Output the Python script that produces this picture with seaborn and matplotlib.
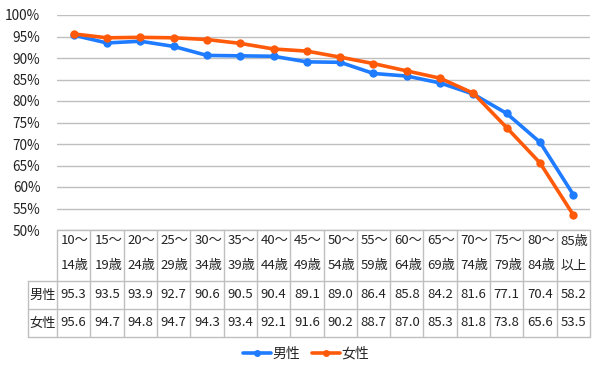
import matplotlib
matplotlib.use("Agg")
import matplotlib.pyplot as plt
import seaborn as sns
import pandas as pd
import numpy as np

# data
age_top = ['10～', '15～', '20～', '25～', '30～', '35～', '40～', '45～',
           '50～', '55～', '60～', '65～', '70～', '75～', '80～', '85歳']
age_bottom = ['14歳', '19歳', '24歳', '29歳', '34歳', '39歳', '44歳', '49歳',
              '54歳', '59歳', '64歳', '69歳', '74歳', '79歳', '84歳', '以上']
male = [95.3, 93.5, 93.9, 92.7, 90.6, 90.5, 90.4, 89.1,
        89.0, 86.4, 85.8, 84.2, 81.6, 77.1, 70.4, 58.2]
female = [95.6, 94.7, 94.8, 94.7, 94.3, 93.4, 92.1, 91.6,
          90.2, 88.7, 87.0, 85.3, 81.8, 73.8, 65.6, 53.5]
series_names = ['男性', '女性']
colors = ['#1F7BFF', '#FF5A0A']

sns.set_style('white')
plt.rcParams['font.family'] = ['Noto Sans CJK JP', 'DejaVu Sans']

n = len(male)
df = pd.DataFrame({
    'x': list(range(n)) * 2,
    'rate': male + female,
    'sex': [series_names[0]] * n + [series_names[1]] * n,
})

W, H = 606, 378
fig = plt.figure(figsize=(W / 100, H / 100), dpi=100)

# main plot area in pixel terms
left, right, top, bottom = 57, 590, 15, 230
ax = fig.add_axes([left / W, 1 - bottom / H, (right - left) / W, (bottom - top) / H])
sns.lineplot(data=df, x='x', y='rate', hue='sex', palette=colors, marker='o',
             markersize=6, markeredgewidth=0, linewidth=2.6, ax=ax, legend=False)
ax.set_xlim(-0.5, n - 0.5)
ax.set_ylim(50, 100)
ax.set_yticks(np.arange(50, 101, 5))
ax.set_yticklabels([f'{v}%' for v in range(50, 101, 5)], fontsize=9.8, color='#222222')
ax.set_xticks([])
ax.set_xlabel('')
ax.set_ylabel('')
ax.tick_params(axis='y', length=0, pad=12)
ax.grid(axis='y', color='#BFBFBF', linewidth=1)
ax.set_axisbelow(True)
for s in ax.spines.values():
    s.set_visible(False)

# data table below the plot
tleft, ttop, tbot = 28, 230, 337
row_edges = [230, 281, 309, 337]
tab = fig.add_axes([0, 0, 1, 1], facecolor='none')
tab.set_xlim(0, W)
tab.set_ylim(H, 0)
tab.axis('off')
colw = (right - left) / n
grid_c = '#BFBFBF'
# horizontal lines
tab.plot([left, right], [row_edges[0]] * 2, color=grid_c, lw=1)
for y in row_edges[1:]:
    tab.plot([tleft, right], [y, y], color=grid_c, lw=1)
# vertical lines
tab.plot([tleft, tleft], [row_edges[1], tbot], color=grid_c, lw=1)
for i in range(n + 1):
    x = left + i * colw
    tab.plot([x, x], [ttop, tbot], color=grid_c, lw=1)

fs = 9.5
for i in range(n):
    x0 = left + i * colw
    tab.text(x0 + 4, 241, age_top[i], fontsize=fs, va='center', ha='left', color='#222222')
    tab.text(x0 + 4, 266, age_bottom[i], fontsize=fs, va='center', ha='left', color='#222222')
    tab.text(x0 + colw / 2, 295, f'{male[i]:.1f}', fontsize=fs, va='center', ha='center', color='#222222')
    tab.text(x0 + colw / 2, 323, f'{female[i]:.1f}', fontsize=fs, va='center', ha='center', color='#222222')
tab.text((tleft + left) / 2, 295, series_names[0], fontsize=fs, va='center', ha='center', color='#222222')
tab.text((tleft + left) / 2, 323, series_names[1], fontsize=fs, va='center', ha='center', color='#222222')

# legend
handles = [plt.Line2D([], [], color=c, lw=2.6, marker='o', markersize=5, markeredgewidth=0)
           for c in colors]
fig.legend(handles, series_names, loc='center', bbox_to_anchor=(0.505, 1 - 354 / H),
           ncol=2, frameon=False, fontsize=10, handlelength=2.0, handletextpad=0.1,
           columnspacing=0.9)

fig.savefig('out.png', dpi=100)
